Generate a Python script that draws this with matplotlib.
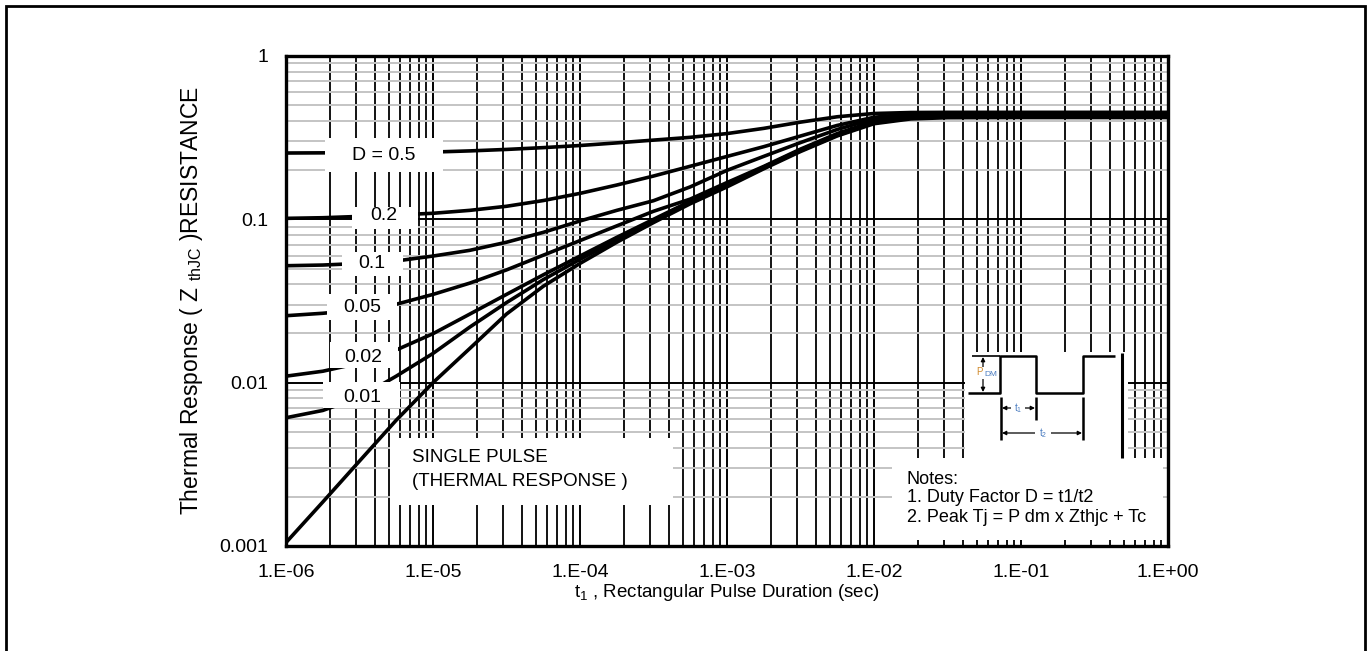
import matplotlib
matplotlib.use("Agg")
import matplotlib.pyplot as plt
from matplotlib.patches import Rectangle
from matplotlib.ticker import FixedLocator, LogLocator, NullFormatter

plt.rcParams["font.family"] = ["Liberation Sans", "DejaVu Sans"]
plt.rcParams["mathtext.fontset"] = "custom"
plt.rcParams["mathtext.rm"] = "Liberation Sans"
plt.rcParams["mathtext.it"] = "Liberation Sans"

W, H = 1367, 651

# pulse widths (s), quarter-decade steps, shared by every trace
t_pulse = [1e-6, 1.78e-6, 3.16e-6, 5.62e-6, 1e-5, 1.78e-5, 3.16e-5, 5.62e-5,
           1e-4, 1.78e-4, 3.16e-4, 5.62e-4, 1e-3, 1.78e-3, 3.16e-3, 5.62e-3,
           1e-2, 1.78e-2, 3.16e-2, 1e-1, 1.0]

# Zth(jc) normalised, one trace per duty factor
z_d50 = [0.2547, 0.2553, 0.2559, 0.257, 0.2582, 0.2624, 0.2679, 0.2748,
         0.2831, 0.2938, 0.3055, 0.3177, 0.335, 0.3606, 0.3936, 0.4246,
         0.4446, 0.4508, 0.4519, 0.452, 0.452]
z_d20 = [0.1014, 0.1023, 0.1042, 0.1064, 0.1089, 0.1135, 0.1202, 0.1303,
         0.1442, 0.1622, 0.1841, 0.2113, 0.2427, 0.2786, 0.3236, 0.3758,
         0.4217, 0.4416, 0.4467, 0.448, 0.448]
z_d10 = [0.052, 0.0525, 0.0537, 0.0556, 0.0596, 0.0646, 0.0724, 0.0832,
         0.0977, 0.1135, 0.130, 0.158, 0.1995, 0.243, 0.295, 0.355,
         0.412, 0.435, 0.440, 0.441, 0.441]
z_d05 = [0.0257, 0.0266, 0.0279, 0.0302, 0.0347, 0.0407, 0.049, 0.0603,
         0.0741, 0.0912, 0.112, 0.133, 0.168, 0.211, 0.269, 0.335,
         0.398, 0.427, 0.434, 0.435, 0.435]
z_d02 = [0.01096, 0.01175, 0.01318, 0.01585, 0.01995, 0.0263, 0.0347, 0.0457,
         0.0596, 0.0776, 0.100, 0.129, 0.162, 0.209, 0.266, 0.331,
         0.394, 0.422, 0.429, 0.430, 0.430]
z_d01 = [0.0061, 0.00676, 0.00813, 0.01096, 0.0151, 0.0219, 0.0309, 0.0427,
         0.0569, 0.075, 0.0977, 0.127, 0.160, 0.207, 0.263, 0.327,
         0.389, 0.417, 0.424, 0.425, 0.425]
z_single = [0.00105, 0.00186, 0.00331, 0.00589, 0.0100, 0.0162, 0.0263, 0.0389,
            0.0537, 0.0724, 0.0955, 0.1245, 0.158, 0.204, 0.260, 0.324,
            0.385, 0.412, 0.419, 0.420, 0.420]

traces = [z_d50, z_d20, z_d10, z_d05, z_d02, z_d01, z_single]

x_ticks = [1e-6, 1e-5, 1e-4, 1e-3, 1e-2, 1e-1, 1.0]
x_ticklabels = ["1.E-06", "1.E-05", "1.E-04", "1.E-03", "1.E-02", "1.E-01", "1.E+00"]
y_ticks = [0.001, 0.01, 0.1, 1.0]
y_ticklabels = ["0.001", "0.01", "0.1", "1"]

duty_labels = ["D = 0.5", "0.2", "0.1", "0.05", "0.02", "0.01"]
notes = ["Notes:", "1. Duty Factor D = t1/t2", "2. Peak Tj = P dm x Zthjc + Tc"]

fig = plt.figure(figsize=(W / 100, H / 100), dpi=100)
L, R, T, B = 286, 1168, 56, 546
ax = fig.add_axes([L / W, 1 - B / H, (R - L) / W, (B - T) / H])


def ax_xy(px, py):
    # pixel position on the page -> axes fraction
    return (px - L) / (R - L), (B - py) / (B - T)


def ax_box(x0, y0, x1, y1, z=3):
    ax0, ay1 = ax_xy(x0, y0)
    ax1, ay0 = ax_xy(x1, y1)
    ax.add_patch(Rectangle((ax0, ay0), ax1 - ax0, ay1 - ay0, transform=ax.transAxes,
                           facecolor="white", edgecolor="none", zorder=z, clip_on=False))


def ax_text(px, py, s, **kw):
    x, y = ax_xy(px, py)
    ax.text(x, y, s, transform=ax.transAxes, zorder=5, **kw)


def ax_line(xs, ys, **kw):
    pts = [ax_xy(a, b) for a, b in zip(xs, ys)]
    ax.plot([p[0] for p in pts], [p[1] for p in pts], transform=ax.transAxes,
            color="black", zorder=4, clip_on=False, solid_capstyle="butt", **kw)


def ax_arrow(x0, y0, x1, y1):
    ax.annotate("", xy=ax_xy(x1, y1), xytext=ax_xy(x0, y0),
                xycoords="axes fraction", textcoords="axes fraction",
                arrowprops=dict(arrowstyle="<|-|>", lw=0.9, color="black",
                                mutation_scale=6, shrinkA=0, shrinkB=0),
                zorder=4, annotation_clip=False)


ax.set_xscale("log")
ax.set_yscale("log")
ax.set_xlim(1e-6, 1.0)
ax.set_ylim(0.001, 1.0)

for z in traces:
    ax.plot(t_pulse, z, color="black", lw=2.6, zorder=2.2,
            solid_capstyle="butt", solid_joinstyle="round")

ax.xaxis.set_major_locator(FixedLocator(x_ticks))
ax.set_xticklabels(x_ticklabels)
ax.yaxis.set_major_locator(FixedLocator(y_ticks))
ax.set_yticklabels(y_ticklabels)
ax.xaxis.set_minor_locator(LogLocator(base=10, subs=range(2, 10), numticks=20))
ax.yaxis.set_minor_locator(LogLocator(base=10, subs=range(2, 10), numticks=20))
ax.xaxis.set_minor_formatter(NullFormatter())
ax.yaxis.set_minor_formatter(NullFormatter())
ax.tick_params(which="both", length=0, labelsize=14)
ax.tick_params(axis="x", pad=13)
ax.tick_params(axis="y", pad=13)

ax.grid(True, which="major", color="black", lw=1.4, zorder=1)
ax.grid(True, which="minor", axis="x", color="black", lw=1.3, zorder=1)
ax.grid(True, which="minor", axis="y", color="#c4c4c4", lw=1.4, zorder=0.9)
for sp in ax.spines.values():
    sp.set_linewidth(2.4)
    sp.set_zorder(6)

ax.set_xlabel("t$_1$ , Rectangular Pulse Duration (sec)", fontsize=13.5, labelpad=1)
ax.set_ylabel("Thermal Response ( Z $_{\\mathrm{thJC}}$ )RESISTANCE", fontsize=16.5)
ax.yaxis.set_label_coords((205 - L) / (R - L), 0.5)

# duty-factor tags sitting on the curves
tag_boxes = [(325, 138, 443, 172), (352, 207, 418, 229), (342, 252, 403, 276),
             (327, 294, 397, 320), (330, 342, 398, 368), (323, 382, 400, 408)]
tag_pos = [(384, 155), (384, 215), (372, 263), (362, 307), (363, 357), (362, 397)]
for (bx0, by0, bx1, by1), (tx, ty), s in zip(tag_boxes, tag_pos, duty_labels):
    ax_box(bx0, by0, bx1, by1)
    ax_text(tx, ty, s, ha="center", va="center", fontsize=14)

ax_box(390, 438, 673, 505)
ax_text(412, 458, "SINGLE PULSE", ha="left", va="center", fontsize=13.5)
ax_text(412, 481, "(THERMAL RESPONSE )", ha="left", va="center", fontsize=13.5)

# notes box and the pulse-train sketch above it
ax_box(892, 458, 1163, 540)
for i, s in enumerate(notes):
    ax_text(907, 479 + 19 * i, s, ha="left", va="center", fontsize=13)

ax_box(965, 352, 1128, 459)
ax_line([968, 1000, 1000, 1036, 1036, 1083, 1083, 1115],
        [393, 393, 356, 356, 393, 393, 356, 356], lw=1.8)
ax_line([972, 1000], [356, 356], lw=1.2)
ax_line([1122, 1122], [353, 458], lw=2.2)
ax_line([1001, 1001], [397, 440], lw=1.8)
ax_line([1036, 1036], [397, 420], lw=1.8)
ax_line([1083, 1083], [397, 440], lw=1.8)
ax_arrow(1002, 408, 1035, 408)
ax_arrow(1002, 433, 1082, 433)
ax_arrow(983, 357, 983, 392)
ax_box(976, 367, 998, 379, z=4.5)
ax_text(976, 372, "P", ha="left", va="center", fontsize=7, color="#d08a2c")
ax_text(984, 375, "DM", ha="left", va="center", fontsize=6, color="#4a7cc0")
ax_box(1011, 403, 1025, 413, z=4.5)
ax_text(1018, 408, "t$_1$", ha="center", va="center", fontsize=7, color="#4a7cc0")
ax_box(1035, 428, 1051, 438, z=4.5)
ax_text(1043, 433, "t$_2$", ha="center", va="center", fontsize=7, color="#4a7cc0")

# page frame
fig.add_artist(Rectangle((6 / W, -0.05), (1365 - 6) / W, 1 - 6 / H + 0.05,
                         transform=fig.transFigure, facecolor="none",
                         edgecolor="black", lw=2.0))

fig.savefig("out.png", dpi=100)
